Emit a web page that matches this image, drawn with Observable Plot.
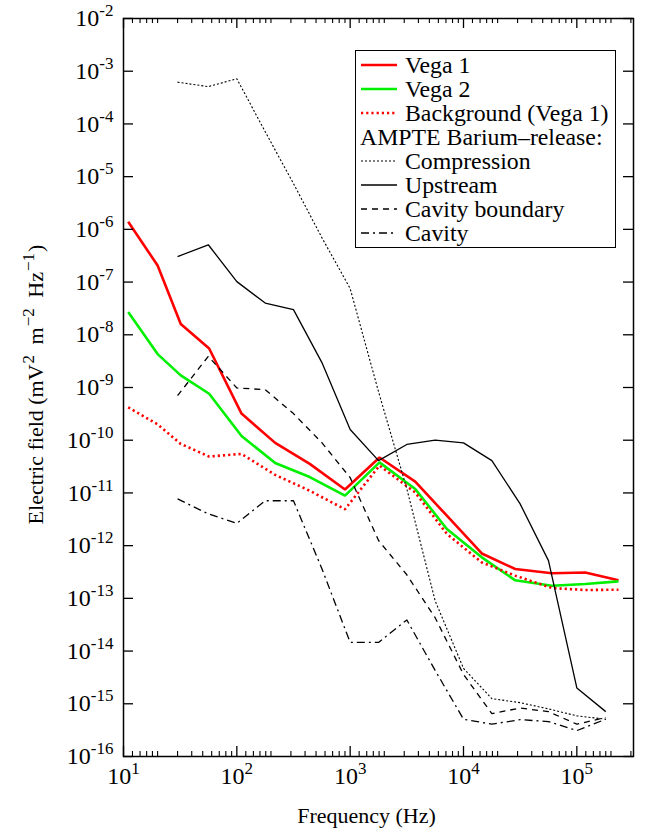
<!DOCTYPE html>
<html><head><meta charset="utf-8">
<script src="https://cdn.jsdelivr.net/npm/d3@7"></script>
<script src="https://cdn.jsdelivr.net/npm/@observablehq/plot@0.6"></script>
<style>
body{margin:0;background:#fff;}
#wrap{position:relative;width:648px;height:839px;font-family:"Liberation Serif","Times New Roman",serif;}
#legend{position:absolute;left:355px;top:50px;width:259px;height:196px;border:1.5px solid #000;background:#fff;font-size:23.8px;color:#000;}
.row{position:absolute;left:0;height:24px;line-height:24px;white-space:nowrap;}
.row svg{position:absolute;left:5px;top:0;}
.row span.lab{position:absolute;left:49px;top:0;}
.row span.head{position:absolute;left:4px;top:0;}
</style></head><body><div id="wrap"></div>
<script>
// ---------- data ----------
const vegaFreq = [11, 20, 32, 57, 110, 218, 440, 900, 1815, 3750, 7130, 14500, 28600, 60300, 118600, 233000];
const vega1 = [1.4e-6, 2.06e-7, 1.6e-8, 5.5e-9, 3.2e-10, 8.9e-11, 3.55e-11, 1.16e-11, 4.7e-11, 1.64e-11, 3.7e-12, 7.1e-13, 3.6e-13, 3.0e-13, 3.1e-13, 2.2e-13];
const vega2 = [2.7e-8, 4.3e-9, 1.7e-9, 7.6e-10, 1.2e-10, 3.7e-11, 2.0e-11, 8.9e-12, 3.8e-11, 1.19e-11, 2.07e-12, 6.0e-13, 2.2e-13, 1.74e-13, 1.87e-13, 2.1e-13];
const background = [4.2e-10, 2.0e-10, 8.5e-11, 4.9e-11, 5.5e-11, 2.2e-11, 1.1e-11, 4.9e-12, 3.3e-11, 1.02e-11, 1.67e-12, 4.8e-13, 2.7e-13, 1.57e-13, 1.44e-13, 1.46e-13];

const ampteFreq = [30, 56, 100, 178, 316, 562, 1000, 1780, 3160, 5620, 10000, 17800, 31600, 56200, 100000, 180000];
const compression = [6.2e-4, 5.1e-4, 7.2e-4, 7.1e-5, 7.4e-6, 7.0e-7, 7.5e-8, 8.3e-10, 1.2e-11, 9.0e-14, 4.7e-15, 1.25e-15, 1.05e-15, 8.0e-16, 5.9e-16, 5.1e-16];
const upstream = [3.05e-7, 5.1e-7, 1.02e-7, 4.0e-8, 3.0e-8, 3.0e-9, 1.6e-10, 4.1e-11, 8.3e-11, 1.0e-10, 8.9e-11, 4.1e-11, 6.2e-12, 5.2e-13, 2.0e-15, 7.1e-16];
const cavityBoundary = [7.0e-10, 3.9e-9, 9.8e-10, 9.1e-10, 3.2e-10, 9.0e-11, 1.95e-11, 1.25e-12, 2.8e-13, 4.3e-14, 3.6e-15, 6.5e-16, 8.3e-16, 7.1e-16, 4.1e-16, 5.5e-16];
const cavity = [7.7e-12, 4.0e-12, 2.65e-12, 7.1e-12, 7.1e-12, 3.7e-13, 1.46e-14, 1.46e-14, 3.9e-14, 4.3e-15, 5.1e-16, 4.1e-16, 5.0e-16, 4.6e-16, 3.1e-16, 5.1e-16];

const xTickExps = [1, 2, 3, 4, 5];
const xMinorMult = [1.2, 1.4, 1.6, 1.8, 2, 3, 4, 5, 6, 7, 8, 9];
const yTickExps = [-16, -15, -14, -13, -12, -11, -10, -9, -8, -7, -6, -5, -4, -3, -2];
const xTitle = "Frequency (Hz)";
const yTitle = "Electric field (mV^{2} m^{\u22122} Hz^{\u22121})";

const series = [
  {name: "Vega 1", f: vegaFreq, v: vega1, stroke: "#ff0000", sw: 2.6, dash: null},
  {name: "Vega 2", f: vegaFreq, v: vega2, stroke: "#00f000", sw: 2.6, dash: null},
  {name: "Background (Vega 1)", f: vegaFreq, v: background, stroke: "#ff0000", sw: 2.6, dash: "2.2,3"},
  {name: "Compression", f: ampteFreq, v: compression, stroke: "#000", sw: 1.1, dash: "2,2"},
  {name: "Upstream", f: ampteFreq, v: upstream, stroke: "#000", sw: 1.3, dash: null},
  {name: "Cavity boundary", f: ampteFreq, v: cavityBoundary, stroke: "#000", sw: 1.3, dash: "6,5"},
  {name: "Cavity", f: ampteFreq, v: cavity, stroke: "#000", sw: 1.3, dash: "8,4,2,4"}
];

// ---------- build ----------
const xMajor = xTickExps.map(e => 10 ** e);
const xMinor = [];
for (const e of xTickExps) for (const m of xMinorMult) { const v = m * 10 ** e; if (v < 3.1e5) xMinor.push(v); }
const yMajor = yTickExps.map(e => 10 ** e);

const lineMarks = series.map(s => Plot.line(s.f.map((f, i) => ({f, v: s.v[i]})), {
  x: "f", y: "v", stroke: s.stroke, strokeWidth: s.sw, strokeDasharray: s.dash,
  strokeLinejoin: "miter", strokeLinecap: "butt", clip: true
}));

const plotH = 839 - 18 - 83;
const plotW = 648 - 123 - 15;
const BASE = 24, SUP = 17, RAISE = 10;

const chart = Plot.plot({
  width: 648, height: 839,
  marginLeft: 123, marginRight: 15, marginTop: 18, marginBottom: 83,
  x: {type: "log", domain: [10, 10 ** 5.5], axis: null},
  y: {type: "log", domain: [1e-16, 1e-2], axis: null},
  style: {fontFamily: "'Liberation Serif','Times New Roman',serif", fontSize: "22px", background: "#fff", color: "#000", overflow: "visible"},
  marks: [
    ...lineMarks,
    Plot.tickX(xMajor, {x: d => d, insetTop: plotH - 10, stroke: "#000", strokeWidth: 1.3}),
    Plot.tickX(xMajor, {x: d => d, insetBottom: plotH - 10, stroke: "#000", strokeWidth: 1.3}),
    Plot.tickX(xMinor, {x: d => d, insetTop: plotH - 5, stroke: "#000", strokeWidth: 1.1}),
    Plot.tickX(xMinor, {x: d => d, insetBottom: plotH - 5, stroke: "#000", strokeWidth: 1.1}),
    Plot.tickY(yMajor, {y: d => d, insetRight: plotW - 10, stroke: "#000", strokeWidth: 1.3}),
    Plot.tickY(yMajor, {y: d => d, insetLeft: plotW - 10, stroke: "#000", strokeWidth: 1.3}),
    Plot.frame({stroke: "#000", strokeWidth: 1.5}),
    Plot.text(xTickExps, {x: e => 10 ** e, text: e => `10^{${e}}`, frameAnchor: "bottom", dy: 27, fontSize: BASE, fill: "#000"}),
    Plot.text(yTickExps, {y: e => 10 ** e, text: e => `10^{${e}}`, frameAnchor: "left", textAnchor: "end", dx: -10, fontSize: BASE, fill: "#000"}),
    Plot.text([xTitle], {text: d => d, frameAnchor: "bottom", dy: 66, dx: -12, fontSize: 22, fill: "#000"}),
    Plot.text([yTitle], {text: d => d, frameAnchor: "left", textAnchor: "middle", rotate: -90, dx: -88, dy: -3, fontSize: 22, fill: "#000"})
  ]
});

// superscripts as real tspans
d3.select(chart).selectAll("text").each(function () {
  const t = this.textContent;
  if (!t.includes("^{")) return;
  const el = d3.select(this);
  const isTitle = t.length > 12;
  const sup = isTitle ? 17 : SUP, raise = isTitle ? 9 : RAISE;
  const gapBefore = isTitle ? 1 : 0, gapAfter = isTitle ? 5 : 0;
  el.text(null);
  const parts = t.split(/(\^\{[^}]*\})/);
  let raised = false;
  for (const p of parts) {
    if (!p) continue;
    if (p.startsWith("^{")) {
      el.append("tspan").attr("dy", raised ? 0 : -raise).attr("dx", gapBefore).attr("font-size", sup).text(p.slice(2, -1));
      raised = true;
    } else {
      const ts = el.append("tspan").text(p);
      if (raised) { ts.attr("dy", raise).attr("dx", p === ")" ? 1 : gapAfter); raised = false; }
    }
  }
});

const wrap = document.getElementById("wrap");
wrap.appendChild(chart);

// legend (HTML overlay)
const legend = document.createElement("div");
legend.id = "legend";
wrap.appendChild(legend);
const rows = [
  {s: series[0]}, {s: series[1]}, {s: series[2]},
  {head: "AMPTE Barium\u2013release:"},
  {s: series[3]}, {s: series[4]}, {s: series[5]}, {s: series[6]}
];
rows.forEach((r, i) => {
  const row = document.createElement("div");
  row.className = "row";
  row.style.top = (1.5 + 24 * i) + "px";
  row.style.width = "100%";
  if (r.head) {
    const sp = document.createElement("span"); sp.className = "head"; sp.textContent = r.head; row.appendChild(sp);
  } else {
    const s = r.s;
    const svg = d3.create("svg").attr("width", 36).attr("height", 24);
    svg.append("line").attr("x1", 0).attr("x2", 36).attr("y1", 12).attr("y2", 12)
      .attr("stroke", s.stroke).attr("stroke-width", s.sw).attr("stroke-dasharray", s.dash);
    row.appendChild(svg.node());
    const sp = document.createElement("span"); sp.className = "lab"; sp.textContent = s.name; row.appendChild(sp);
  }
  legend.appendChild(row);
});
</script>
</body></html>
